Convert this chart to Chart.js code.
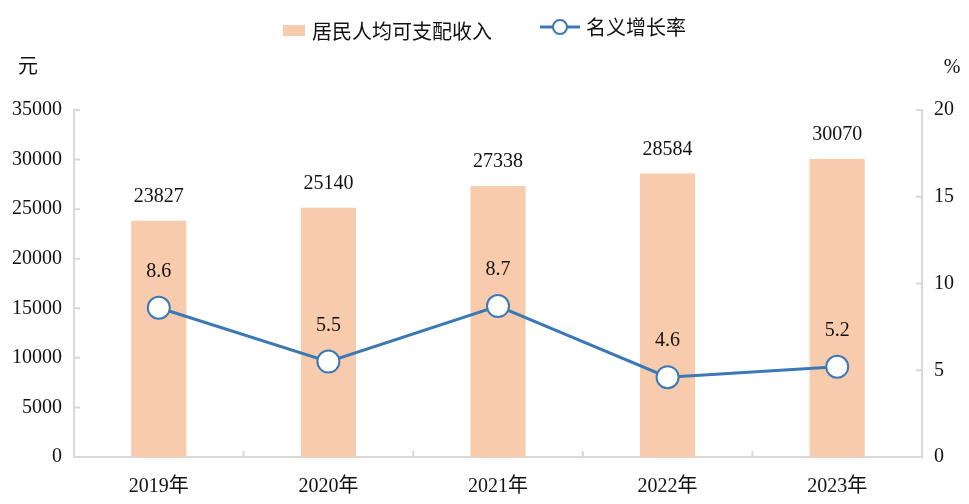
<!DOCTYPE html>
<html>
<head>
<meta charset="utf-8">
<script src="https://cdn.jsdelivr.net/npm/chart.js@4"></script>
<style>
  body { margin: 0; background: #fff; }
  #wrap { position: relative; width: 969px; height: 504px; }
  #legend {
    position: absolute; top: 12px; left: 0; width: 969px;
    text-align: center; font: 20px "Liberation Serif", "Noto Sans CJK SC", serif; color: #111;
  }
  #legend span.item { display: inline-flex; align-items: center; margin: 0 24px; }
  #legend .box { width: 22px; height: 11px; background: #F7CBAC; margin-right: 7px; }
  #legend svg { margin-right: 6px; }
</style>
</head>
<body>
<div id="wrap">
  <canvas id="c" width="969" height="504"></canvas>
  <div id="legend"></div>
</div>
<script>
const years = ["2019年", "2020年", "2021年", "2022年", "2023年"];
const income = [23827, 25140, 27338, 28584, 30070];
const growth = [8.6, 5.5, 8.7, 4.6, 5.2];
const leftTicks = [0, 5000, 10000, 15000, 20000, 25000, 30000, 35000];
const rightTicks = [0, 5, 10, 15, 20];

const barColor = "#F7CBAC";
const lineColor = "#3B78B6";
const axisColor = "#d9d9d9";
const font = "'Liberation Serif', 'Noto Sans CJK SC', serif";

document.getElementById("legend").innerHTML =
  `<span class="item"><span class="box"></span>居民人均可支配收入</span>` +
  `<span class="item"><svg width="40" height="18"><line x1="0" y1="9" x2="40" y2="9" stroke="${lineColor}" stroke-width="3"/>` +
  `<circle cx="20" cy="9" r="7" fill="#fff" stroke="${lineColor}" stroke-width="2"/></svg>名义增长率</span>`;

// value labels, unit labels and inward ticks
const extras = {
  id: "extras",
  afterDatasetsDraw(chart) {
    const ctx = chart.ctx;
    const area = chart.chartArea;
    const y = chart.scales.y, y2 = chart.scales.y2, x = chart.scales.x;
    ctx.save();
    ctx.strokeStyle = axisColor;
    ctx.lineWidth = 2;
    ctx.beginPath();
    leftTicks.forEach(v => { const p = y.getPixelForValue(v); ctx.moveTo(area.left, p); ctx.lineTo(area.left + 6, p); });
    rightTicks.forEach(v => { const p = y2.getPixelForValue(v); ctx.moveTo(area.right, p); ctx.lineTo(area.right - 6, p); });
    for (let i = 1; i < years.length; i++) {
      const p = (x.getPixelForValue(i - 1) + x.getPixelForValue(i)) / 2;
      ctx.moveTo(p, area.bottom); ctx.lineTo(p, area.bottom - 6);
    }
    ctx.stroke();

    ctx.fillStyle = "#111";
    ctx.font = "20px " + font;
    ctx.textAlign = "center";
    ctx.textBaseline = "middle";
    chart.getDatasetMeta(1).data.forEach((bar, i) => {
      ctx.fillText(String(income[i]), bar.x, bar.y - 24);
    });
    chart.getDatasetMeta(0).data.forEach((pt, i) => {
      ctx.fillText(growth[i].toFixed(1), pt.x, pt.y - 36);
    });
    ctx.fillText("元", 28, 68);
    ctx.fillText("%", 952, 68);
    ctx.restore();
  }
};

new Chart(document.getElementById("c"), {
  data: {
    labels: years,
    datasets: [
      {
        type: "line",
        label: "名义增长率",
        data: growth,
        yAxisID: "y2",
        borderColor: lineColor,
        borderWidth: 3,
        pointRadius: 11,
        pointBorderWidth: 2,
        pointBackgroundColor: "#fff",
        pointBorderColor: lineColor,
        order: 0
      },
      {
        type: "bar",
        label: "居民人均可支配收入",
        data: income,
        yAxisID: "y",
        backgroundColor: barColor,
        barPercentage: 0.325,
        categoryPercentage: 1,
        order: 1
      }
    ]
  },
  options: {
    responsive: false,
    animation: false,
    layout: { padding: { top: 110, left: 0, right: 0, bottom: 0 } },
    plugins: { legend: { display: false }, tooltip: { enabled: false } },
    scales: {
      x: {
        grid: { display: false },
        border: { color: axisColor, width: 2 },
        ticks: { color: "#111", font: { family: font, size: 20 }, padding: 10 },
        afterFit(s) { s.height = 47; }
      },
      y: {
        position: "left",
        min: 0, max: 35000,
        grid: { display: false },
        border: { color: axisColor, width: 2 },
        ticks: { stepSize: 5000, color: "#111", font: { family: font, size: 20 }, padding: 4, callback: v => String(v) },
        afterFit(s) { s.width = 74; }
      },
      y2: {
        position: "right",
        min: 0, max: 20,
        grid: { display: false },
        border: { color: axisColor, width: 2 },
        ticks: { stepSize: 5, color: "#111", font: { family: font, size: 20 }, padding: 4, callback: v => String(v) },
        afterFit(s) { s.width = 47; }
      }
    }
  },
  plugins: [extras]
});
</script>
</body>
</html>
